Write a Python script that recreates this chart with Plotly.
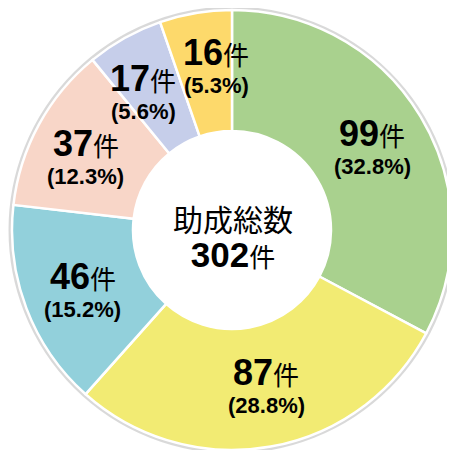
import math
import plotly.graph_objects as go

# ---- data ----
categories = ["A", "B", "C", "D", "E", "F"]
counts = [99, 87, 46, 37, 17, 16]
percent_labels = ["32.8", "28.8", "15.2", "12.3", "5.6", "5.3"]
colors = ["#A9D18E", "#F2EB73", "#92D0DB", "#F8D6C8", "#C6CEEA", "#FDD96B"]
center_title = "助成総数"
total_count = 302
unit = "件"

# ---- layout constants (page pixels; body has 8px default margin) ----
PAGE_OFF = 8
W, H = 455 - PAGE_OFF, 450 - PAGE_OFF
cx, cy, R = 232 - PAGE_OFF, 230 - PAGE_OFF, 220
hole = 0.45
label_r = 162
label_angle_nudge = [1, -2, -2, -3, -4, 4]  # degrees, manual label placement

NUM_FONT = "Liberation Sans, Arial"
CJK_FONT = "Noto Sans CJK JP"

fig = go.Figure()
fig.add_trace(go.Pie(
    labels=categories, values=counts, sort=False, direction="clockwise",
    rotation=0, hole=hole, textinfo="none", hoverinfo="label+value",
    marker=dict(colors=colors, line=dict(color="white", width=2.5)),
    domain=dict(x=[(cx - R) / W, (cx + R) / W], y=[(H - cy - R) / H, (H - cy + R) / H]),
    showlegend=False,
))

annotations = []
total = sum(counts)
cum = 0
for c, p, nd in zip(counts, percent_labels, label_angle_nudge):
    mid = (cum + c / 2) / total
    cum += c
    th = 2 * math.pi * mid + math.radians(nd)
    xp = cx + label_r * math.sin(th)
    yp = cy - label_r * math.cos(th)
    annotations.append(dict(
        x=xp / W, y=1 - (yp - 16) / H, xref="paper", yref="paper",
        showarrow=False, xanchor="center", yanchor="middle",
        text=f"<b>{c}</b><span style='font-family:{CJK_FONT};font-size:26px'>{unit}</span>",
        font=dict(family=NUM_FONT, size=36, color="black"),
    ))
    annotations.append(dict(
        x=xp / W, y=1 - (yp + 17) / H, xref="paper", yref="paper",
        showarrow=False, xanchor="center", yanchor="middle",
        text=f"<b>({p}%)</b>",
        font=dict(family=NUM_FONT, size=22, color="black"),
    ))

annotations.append(dict(
    x=(cx + 1) / W, y=1 - (cy + 5) / H, xref="paper", yref="paper", showarrow=False,
    text=(f"<span style='font-family:{CJK_FONT};font-size:30px'>{center_title}</span><br>"
          f"<span style='font-size:35px;font-weight:bold'>{total_count}</span>"
          f"<span style='font-family:{CJK_FONT};font-size:26px'>{unit}</span>"),
    font=dict(family=NUM_FONT, size=28, color="black"),
    xanchor="center", yanchor="middle",
))

fig.update_layout(
    width=W, height=H, margin=dict(l=0, r=0, t=0, b=0),
    paper_bgcolor="white", plot_bgcolor="white",
    annotations=annotations,
    shapes=[dict(type="circle", xref="paper", yref="paper", layer="below",
                 x0=(cx - R - 1.5) / W, x1=(cx + R + 1.5) / W,
                 y0=(H - cy - R - 1.5) / H, y1=(H - cy + R + 1.5) / H,
                 line=dict(color="rgba(0,0,0,0.15)", width=4), fillcolor="rgba(0,0,0,0)")],
)

fig.write_html("out.html")
